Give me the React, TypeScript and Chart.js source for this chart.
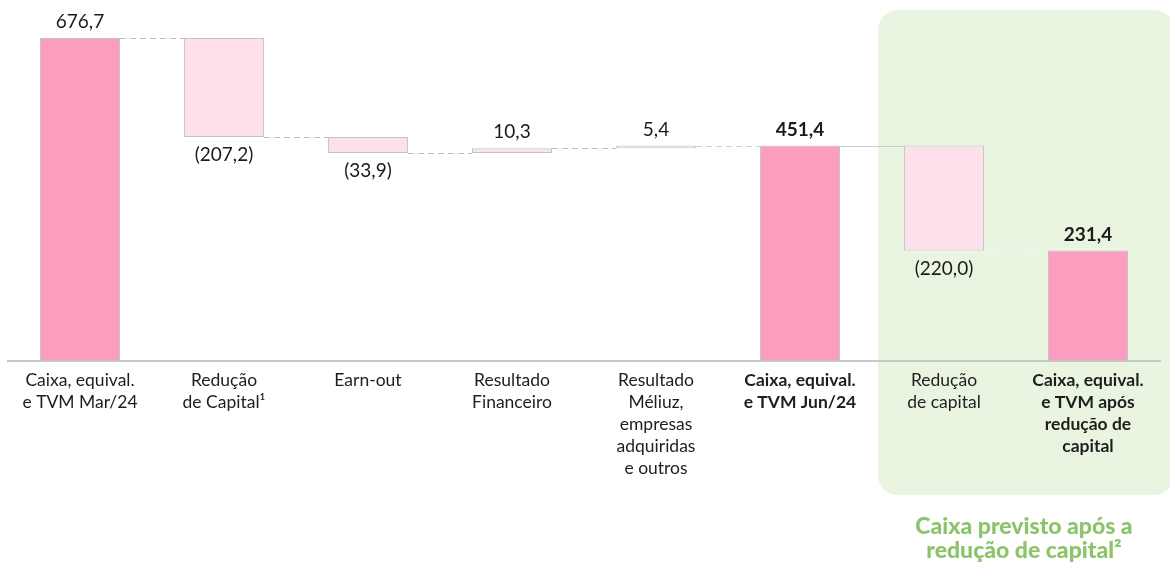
import React, { useEffect, useRef } from "react";
import { Chart, registerables } from "chart.js";

Chart.register(...registerables);

const categories: string[][] = [
  ["Caixa, equival.", "e TVM Mar/24"],
  ["Redução", "de Capital¹"],
  ["Earn-out"],
  ["Resultado", "Financeiro"],
  ["Resultado", "Méliuz,", "empresas", "adquiridas", "e outros"],
  ["Caixa, equival.", "e TVM Jun/24"],
  ["Redução", "de capital"],
  ["Caixa, equival.", "e TVM após", "redução de", "capital"],
];
const values = [676.7, -207.2, -33.9, 10.3, 5.4, 451.4, -220.0, 231.4];
const isTotal = [true, false, false, false, false, true, false, true];
const boldLabel = [false, false, false, false, false, true, false, true];
const captionLines = ["Caixa previsto após a", "redução de capital²"];

const FONT = "Lato, 'Noto Sans', sans-serif";

function fmt(v: number): string {
  const s = Math.abs(v).toFixed(1).replace(".", ",");
  return v < 0 ? `(${s})` : s;
}

export default function App() {
  const ref = useRef<HTMLCanvasElement | null>(null);

  useEffect(() => {
    if (!ref.current) return;
    let running = 0;
    const ranges: [number, number][] = values.map((v, i) => {
      if (isTotal[i]) {
        running = v;
        return [0, v];
      }
      const r: [number, number] = [running, running + v];
      running += v;
      return r;
    });
    const levels = ranges.map((r) => r[1]);

    const connectorStyles = [
      { color: "#bdbdbd", dash: [6, 4] },
      { color: "#bdbdbd", dash: [6, 4] },
      { color: "#bdbdbd", dash: [6, 4] },
      { color: "#bdbdbd", dash: [6, 4] },
      { color: "#cfcfcf", dash: [6, 4] },
      { color: "#cccccc", dash: [] },
      { color: "#f6f6f6", dash: [6, 4] },
    ];

    const bgPlugin = {
      id: "greenBox",
      beforeDraw(chart: any) {
        const { ctx } = chart;
        const xs = chart.scales.x;
        const step = xs.getPixelForValue(1) - xs.getPixelForValue(0);
        const left = xs.getPixelForValue(6) - step / 2 + 6;
        const right = chart.width + 4;
        const top = 10;
        const bottom = 495;
        const r = 20;
        ctx.save();
        ctx.fillStyle = "#e9f5e1";
        ctx.beginPath();
        ctx.moveTo(left + r, top);
        ctx.lineTo(right - r, top);
        ctx.arcTo(right, top, right, top + r, r);
        ctx.lineTo(right, bottom - r);
        ctx.arcTo(right, bottom, right - r, bottom, r);
        ctx.lineTo(left + r, bottom);
        ctx.arcTo(left, bottom, left, bottom - r, r);
        ctx.lineTo(left, top + r);
        ctx.arcTo(left, top, left + r, top, r);
        ctx.closePath();
        ctx.fill();
        ctx.fillStyle = "#8cc46c";
        ctx.font = `900 23px ${FONT}`;
        ctx.textAlign = "center";
        ctx.textBaseline = "middle";
        const cx = (xs.getPixelForValue(6) + xs.getPixelForValue(7)) / 2 + 8;
        captionLines.forEach((t, i) => ctx.fillText(t, cx, 527 + i * 24));
        ctx.restore();
      },
    };

    const overlayPlugin = {
      id: "overlay",
      afterDatasetsDraw(chart: any) {
        const { ctx } = chart;
        const ys = chart.scales.y;
        const meta = chart.getDatasetMeta(0);
        const bars = meta.data;
        ctx.save();
        for (let i = 0; i < bars.length - 1; i++) {
          const a = bars[i];
          const b = bars[i + 1];
          const y = Math.round(ys.getPixelForValue(levels[i])) + 0.5;
          const st = connectorStyles[i];
          ctx.strokeStyle = st.color;
          ctx.lineWidth = 1;
          ctx.setLineDash(st.dash);
          ctx.beginPath();
          ctx.moveTo(a.x + a.width / 2, y);
          ctx.lineTo(b.x - b.width / 2, y);
          ctx.stroke();
        }
        ctx.setLineDash([]);
        ctx.textAlign = "center";
        ctx.textBaseline = "middle";
        bars.forEach((bar: any, i: number) => {
          const v = values[i];
          ctx.fillStyle = "#1a1a1a";
          ctx.font = `${boldLabel[i] ? "bold " : ""}19px ${FONT}`;
          const top = Math.min(bar.y, bar.base);
          const bottom = Math.max(bar.y, bar.base);
          if (v < 0) ctx.fillText(fmt(v), bar.x, bottom + 18);
          else ctx.fillText(fmt(v), bar.x, top - 16);
        });
        ctx.restore();
      },
    };

    const chart = new Chart(ref.current, {
      type: "bar",
      data: {
        labels: categories,
        datasets: [
          {
            data: ranges as any,
            backgroundColor: isTotal.map((t) => (t ? "#fc9cbf" : "#fde0ea")),
            borderColor: "#c4c4c4",
            borderWidth: 1,
            borderSkipped: false,
            barPercentage: 0.556,
            categoryPercentage: 1,
          },
        ],
      },
      options: {
        responsive: false,
        animation: false,
        layout: { padding: { left: 8, right: 10, top: 0, bottom: 0 } },
        plugins: { legend: { display: false }, tooltip: { enabled: false } },
        scales: {
          y: { display: false, min: 0, max: 756.3 },
          x: {
            afterFit: (scale: any) => {
              scale.height = 203;
            },
            grid: { display: false, drawTicks: false },
            border: { display: true, color: "#c8c8c8", width: 2 },
            ticks: {
              padding: 8,
              color: "#1e1e1e",
              maxRotation: 0,
              autoSkip: false,
              font: (c: any) => ({
                family: FONT,
                size: 17.5,
                weight: boldLabel[c.index] ? "bold" : "normal",
                lineHeight: 1.26,
              }),
            },
          },
        },
      },
      plugins: [bgPlugin, overlayPlugin],
    });
    return () => chart.destroy();
  }, []);

  return (
    <div style={{ position: "absolute", left: 0, top: 0, width: 1170, height: 564, background: "#fff" }}>
      <canvas ref={ref} width={1170} height={564} />
    </div>
  );
}
